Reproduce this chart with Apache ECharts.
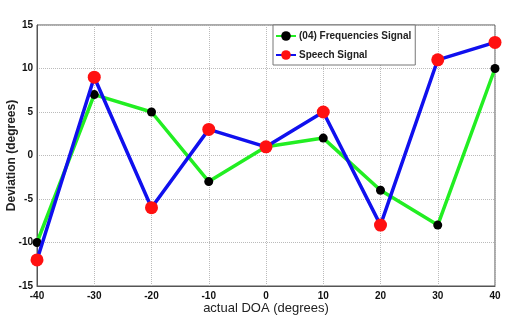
<!DOCTYPE html>
<html>
<head>
<meta charset="utf-8">
<script src="https://cdn.jsdelivr.net/npm/echarts@6/dist/echarts.min.js"></script>
<style>
  html, body { margin: 0; padding: 0; background: #fff; }
  #main { width: 508px; height: 318px; }
</style>
</head>
<body>
<div id="main"></div>
<script>
const doaAngles = [-40, -30, -20, -10, 0, 10, 20, 30, 40];
const freqSignal = [-10, 7, 5, -3, 1, 2, -4, -8, 10];
const speechSignal = [-12, 9, -6, 3, 1, 5, -8, 11, 13];

const chart = echarts.init(document.getElementById('main'));
const pairs = vals => doaAngles.map((x, i) => [x, vals[i]]);

const tickFont = { color: '#111', fontSize: 10, fontWeight: 'bold', fontFamily: 'Liberation Sans' };

chart.setOption({
  backgroundColor: '#fff',
  animation: false,
  grid: {
    left: 37, right: 13, top: 25, bottom: 32,
    containLabel: false, outerBoundsMode: 'none',
    show: true, borderColor: '#555', borderWidth: 1
  },
  legend: {
    orient: 'vertical',
    left: 273, top: 25,
    itemWidth: 20, itemHeight: 12, itemGap: 9,
    padding: [6, 4, 5, 2],
    borderColor: '#777', borderWidth: 1,
    backgroundColor: '#fff',
    textStyle: { color: '#222', fontSize: 10, fontWeight: 'bold', fontFamily: 'Liberation Sans', padding: [0, 0, 0, -2] },
    data: ['(04) Frequencies Signal', 'Speech Signal']
  },
  xAxis: {
    type: 'value', min: -40, max: 40, interval: 10,
    name: 'actual DOA (degrees)', nameLocation: 'middle', nameGap: 16, nameMoveOverlap: false,
    nameTextStyle: { color: '#222', fontSize: 13, fontFamily: 'Liberation Sans' },
    axisLine: { onZero: false, lineStyle: { color: '#555' } },
    axisTick: { show: false },
    axisLabel: Object.assign({ margin: 5 }, tickFont),
    splitLine: { show: true, lineStyle: { color: '#bbb', type: 'dotted' } }
  },
  yAxis: {
    type: 'value', min: -15, max: 15, interval: 5,
    name: 'Deviation (degrees)', nameLocation: 'middle', nameGap: 19, nameMoveOverlap: false,
    nameTextStyle: { color: '#222', fontSize: 12, fontWeight: 'bold', fontFamily: 'Liberation Sans' },
    axisLine: { onZero: false, lineStyle: { color: '#555' } },
    axisTick: { show: false },
    axisLabel: Object.assign({ margin: 4 }, tickFont),
    splitLine: { show: true, lineStyle: { color: '#bbb', type: 'dotted' } }
  },
  series: [
    {
      name: '(04) Frequencies Signal',
      type: 'line',
      data: pairs(freqSignal),
      symbol: 'circle', symbolSize: 9,
      lineStyle: { color: '#22ee22', width: 3.5 },
      itemStyle: { color: '#000' },
      z: 2
    },
    {
      name: 'Speech Signal',
      type: 'line',
      data: pairs(speechSignal),
      symbol: 'circle', symbolSize: 13,
      lineStyle: { color: '#1010ee', width: 3.5 },
      itemStyle: { color: '#ff1010' },
      z: 3
    }
  ]
});
</script>
</body>
</html>
